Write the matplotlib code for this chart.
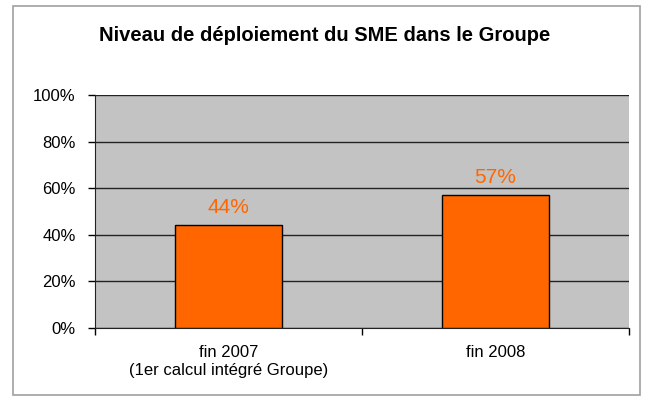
import matplotlib
matplotlib.use("Agg")
from matplotlib import pyplot as plt
from matplotlib.patches import Rectangle
from matplotlib.ticker import FixedLocator, NullFormatter

plt.rcParams['font.family'] = ['Liberation Sans', 'DejaVu Sans']

categories = ["fin 2007\n(1er calcul intégré Groupe)", "fin 2008"]
values = [44, 57]
bar_labels = ["44%", "57%"]
y_ticks = [0, 20, 40, 60, 80, 100]

fig = plt.figure(figsize=(6.49, 4.01), dpi=100)
fig.patches.append(Rectangle((13 / 649, 6 / 401), 627 / 649, 389 / 401,
                             transform=fig.transFigure, fill=False,
                             edgecolor="#a0a0a0", linewidth=1.2))

ax = fig.add_axes([95 / 649, 73 / 401, 534 / 649, 233 / 401])
ax.set_facecolor("#c3c3c3")

x = list(range(len(categories)))
bars = ax.bar(x, values, width=0.4, color="#ff6600", edgecolor="black",
              linewidth=1, zorder=3)
for b, lab in zip(bars, bar_labels):
    ax.annotate(lab, (b.get_x() + b.get_width() / 2, b.get_height()),
                xytext=(0, 6), textcoords="offset points",
                ha="center", va="bottom", color="#ff6600", fontsize=15)

ax.set_xlim(-0.5, len(categories) - 0.5)
ax.set_ylim(0, 100)
ax.set_yticks(y_ticks)
ax.set_yticklabels([f"{t}%" for t in y_ticks], fontsize=12)
ax.yaxis.grid(True, color="#222222", linewidth=1, zorder=1)
ax.set_axisbelow(True)

ax.xaxis.set_major_locator(FixedLocator(x))
ax.set_xticklabels(categories, fontsize=12, linespacing=1.3)
ax.tick_params(axis="x", which="major", length=0, pad=12)
ax.xaxis.set_minor_locator(FixedLocator([-0.5, 0.5, 1.5]))
ax.xaxis.set_minor_formatter(NullFormatter())
ax.tick_params(axis="x", which="minor", length=5, width=1, direction="out")
ax.tick_params(axis="y", length=5, width=1, direction="out", pad=9)

for s in ["top", "right"]:
    ax.spines[s].set_visible(False)
ax.spines["left"].set_color("#222222")
ax.spines["bottom"].set_color("#222222")

fig.text(0.5, 1 - 41 / 401, "Niveau de déploiement du SME dans le Groupe",
         ha="center", va="baseline", fontsize=14.5, fontweight="bold")

fig.savefig("out.png", dpi=100)
